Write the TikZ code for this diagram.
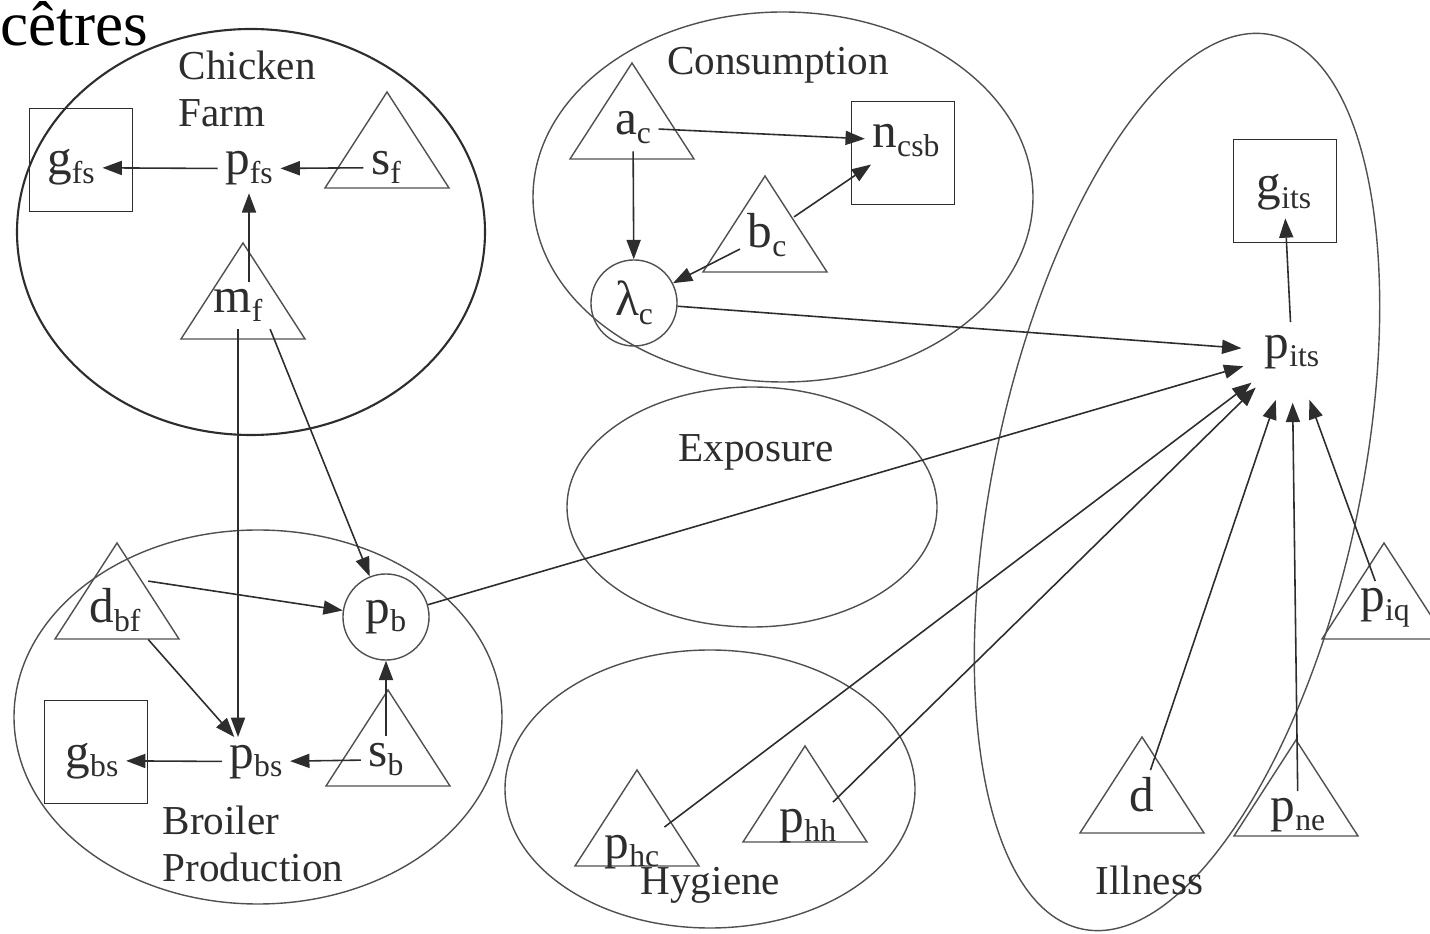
\documentclass[tikz,border=0pt]{standalone}
\usepackage{fontspec}
\setmainfont{Liberation Serif}
\usetikzlibrary{arrows.meta}
\definecolor{riskink}{RGB}{45,45,45}
\definecolor{riskline}{RGB}{80,80,80}
\newcommand{\lowsub}[1]{\raisebox{-2.4pt}{\fontsize{9}{10}\selectfont #1}}
\newcommand{\trinode}[2]{\draw[tframe] (#1,#2) -- ++(-62,-96) -- ++(124,0) -- cycle;}
\tikzset{
  var/.style={
    font=\fontsize{14}{16}\selectfont, text=riskink,
    inner sep=2pt, anchor=base
  },
  vbox/.style={
    rectangle, draw=riskink, line width=0.5pt,
    minimum size=1.03cm, inner sep=0pt
  },
  vcirc/.style={
    circle, draw=riskline, line width=0.4pt,
    minimum size=0.86cm, inner sep=0pt,
    font=\fontsize{14}{16}\selectfont, text=riskink
  },
  hub/.style={
    circle, minimum size=1cm, inner sep=0pt,
    font=\fontsize{14}{16}\selectfont, text=riskink
  },
  grp/.style={
    font=\fontsize{11.7}{13.3}\selectfont, text=riskink,
    inner sep=0pt, align=left
  },
  region/.style={draw=riskline, line width=0.4pt},
  tframe/.style={draw=riskline, line width=0.4pt},
  arr/.style={-{Triangle[length=5.5pt,width=4pt]}, draw=riskink, line width=0.45pt},
}

\begin{document}
\begin{tikzpicture}[x=0.01cm, y=0.01cm]
  \useasboundingbox (0,0) rectangle (1430,-934);
  \clip (0,0) rectangle (1430,-934);
  % regions
  \draw[region, draw=riskink, line width=0.6pt] (251,-232) ellipse [x radius=234, y radius=203];
  \draw[region] (783,-197) ellipse [x radius=250, y radius=185];
  \draw[region] (752,-507) ellipse [x radius=185, y radius=120];
  \draw[region] (258,-717) ellipse [x radius=244, y radius=187];
  \draw[region] (710,-789) ellipse [x radius=205, y radius=139];
  \draw[region, rotate around={78:(1177,-482)}] (1177,-482) ellipse [x radius=457, y radius=183];
  \node[anchor=base west, inner sep=0pt, font=\fontsize{18}{21}\selectfont] (cropword) at (0,-46) {cêtres};
  \node[grp, anchor=north west] (farmlbl) at (178,-50) {Chicken\\Farm};
  \node[grp, anchor=base] (conslbl) at (778,-75) {Consumption};
  \node[grp, anchor=base] (explbl) at (756,-462) {Exposure};
  \node[grp, anchor=north west] (broilbl) at (162,-805) {Broiler\\Production};
  \node[grp, anchor=base west] (hyglbl) at (640,-895) {Hygiene};
  \node[grp, anchor=base west] (illlbl) at (1095,-895) {Illness};
  % triangles
  \trinode{387}{-92} \trinode{243}{-243}
  \trinode{632}{-63} \trinode{765}{-176}
  \trinode{117}{-543} \trinode{388}{-690}
  \trinode{637}{-770} \trinode{805}{-746}
  \trinode{1142}{-737} \trinode{1296}{-740} \trinode{1384}{-543}
  % boxes
  \node[vbox] (gfsbox) at (81,-160) {};
  \node[vbox] (ncsbbox) at (903,-153) {};
  \node[vbox] (gbsbox) at (96,-752) {};
  \node[vbox] (gitsbox) at (1285,-191) {};
  % variables
  \node[var] (gfs) at (71,-175) {g\lowsub{fs}};
  \node[var] (pfs) at (249,-175) {p\lowsub{fs}};
  \node[var] (sf) at (386,-175) {s\lowsub{f}};
  \node[var] (mf) at (238,-313) {m\lowsub{f}};
  \node[var] (ac) at (633,-135) {a\lowsub{c}};
  \node[var] (ncsb) at (906,-148) {n\lowsub{csb}};
  \node[var] (bc) at (767,-248) {b\lowsub{c}};
  \node[vcirc] (lc) at (634,-303) {λ\lowsub{c}};
  \node[var] (dbf) at (115,-623) {d\lowsub{bf}};
  \node[vcirc] (pb) at (386,-617) {p\lowsub{b}};
  \node[var] (gbs) at (92,-768) {g\lowsub{bs}};
  \node[var] (pbs) at (256,-768) {p\lowsub{bs}};
  \node[var] (sb) at (386,-767) {s\lowsub{b}};
  \node[var] (phc) at (632,-858) {p\lowsub{hc}};
  \node[var] (phh) at (808,-833) {p\lowsub{hh}};
  \node[var] (gits) at (1284,-200) {g\lowsub{its}};
  \node[hub] (pits) at (1292,-352) {p\lowsub{its}};
  \node[var] (d) at (1142,-812) {d};
  \node[var] (pne) at (1298,-822) {p\lowsub{ne}};
  \node[var] (piq) at (1385,-612) {p\lowsub{iq}};
  % links
  \draw[arr] (sf) -- (pfs); \draw[arr] (pfs) -- (gfs); \draw[arr] (mf.north -| pfs) -- (pfs);
  \draw[arr] (mf.south) -- (mf.south |- pbs.north); \draw[arr] (mf.south east) -- (pb);
  \draw[arr] (ac) -- (ncsb); \draw[arr] (ac) -- (lc);
  \draw[arr] (bc) -- (ncsb); \draw[arr] (bc) -- (lc);
  \draw[arr] (dbf.north east) -- (pb); \draw[arr] (dbf.south east) -- (pbs);
  \draw[arr] (sb) -- (pb); \draw[arr] (sb) -- (pbs); \draw[arr] (pbs) -- (gbs);
  \draw[arr] (lc) -- (pits); \draw[arr] (pb) -- (pits);
  \draw[arr] (phc) -- (pits); \draw[arr] (phh) -- (pits);
  \draw[arr] (d) -- (pits); \draw[arr] (pne) -- (pits); \draw[arr] (piq) -- (pits);
  \draw[arr, shorten <=0.3cm] (pits.center) -- (gits);
\end{tikzpicture}
\end{document}
